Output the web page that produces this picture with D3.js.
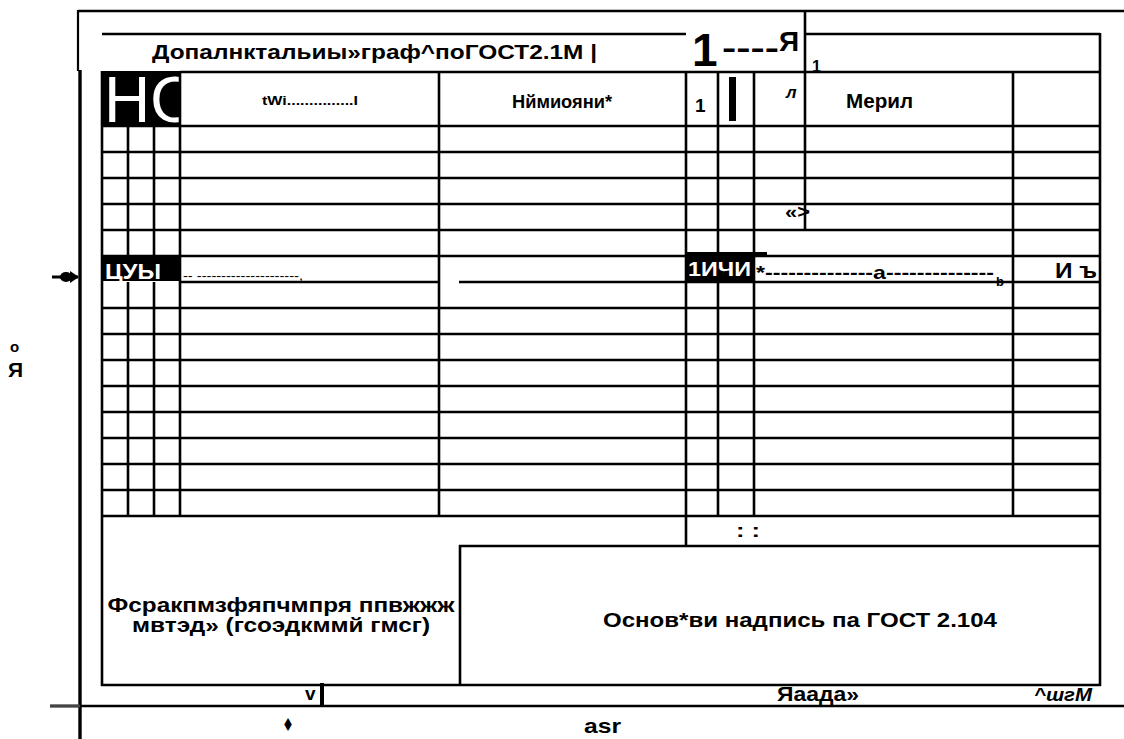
<!DOCTYPE html>
<meta charset="utf-8">
<style>
  body { margin: 0; background: #fff; }
  text { font-family: "Liberation Sans", Arial, sans-serif; font-weight: bold; fill: #000; }
</style>
<script src="https://d3js.org/d3.v7.min.js"></script>
<div id="graph"></div>
<script>

    // form grid: column widths (form units) and number of body rows
    var colWidths = [26, 26, 26, 259, 247, 32, 36, 51, 208, 87];
    var bodyRows = 15;

    // captions
    var headerTitle = "Допалнктальиы»граф^поГОСТ2.1М |";
    var headerCells = ["tWi...............I", "Нймиояни*", "1", "л", "Мерил"];
    var markRow = ["ЦУЫ", "-- ---------------------,", "1ИЧИ", "*--------------а--------------", "b", "И ъ"];
    var leftBlock = ["Фсракпмзфяпчмпря ппвжжж", "мвтэд» (гсоэдкммй гмсг)"];
    var stampText = "Основ*ви надпись па ГОСТ 2.104";
    var footerTexts = ["v", "♦", "asr", "Яаада»", "^шгМ"];
    var sideTexts = ["о", "Я"];

    var W = 1124, H = 739, sw = 2.6;

    var svg = d3.select("#graph")
        .append("svg")
        .attr("width", W)
        .attr("height", H);

    var edges = [0].concat(Array.from(d3.cumsum(colWidths)));
    var x = d3.scaleLinear()
        .domain([0, d3.sum(colWidths)])
        .range([102, 1100]);
    var y = d3.scaleLinear()
        .domain([0, bodyRows])
        .range([126, 516]);
    var X = function (i) { return x(edges[i]); };

    function line(x1, y1, x2, y2, w, c) {
        svg.append("line")
            .attr("x1", x1).attr("y1", y1)
            .attr("x2", x2).attr("y2", y2)
            .attr("stroke", c || "#000")
            .attr("stroke-width", w || sw);
    }
    function txt(s, tx, ty, size, opt) {
        opt = opt || {};
        var t = svg.append("text")
            .attr("x", tx).attr("y", ty)
            .style("font-size", size + "px")
            .text(s);
        if (opt.anchor) t.attr("text-anchor", opt.anchor);
        if (opt.fill) t.style("fill", opt.fill);
        if (opt.italic) t.style("font-style", "italic");
        if (opt.weight) t.style("font-weight", opt.weight);
        if (opt.family) t.style("font-family", opt.family);
        if (opt.len) t.attr("textLength", opt.len).attr("lengthAdjust", "spacingAndGlyphs");
        return t;
    }

    // outer frame
    line(78, 11, W, 11);
    line(78, 10, 78, 71, 2.2);
    line(80, 70, 80, H, 3.4);
    line(X(8), 10, X(8), y(4));
    line(50, 706, W, 706);
    line(50, 706, 80, 706, 3, "#444");

    // top header band
    line(102, 34, X(5), 34);
    line(X(8), 34, X(10), 34);
    line(X(10), 33, X(10), 686);

    // black "НО" block
    svg.append("rect").attr("x", 102).attr("y", 71).attr("width", 81).attr("height", 55).attr("fill", "#000");
    txt("НО", 104, 122, 64, { fill: "#fff", weight: "normal" });
    svg.append("rect").attr("x", X(3)).attr("y", 70).attr("width", 20).attr("height", 55).attr("fill", "#fff");

    // table outline
    line(X(3), 72, X(10), 72);
    line(X(0), 71, X(0), 686);
    line(101, 685, X(10) + 1, 685);

    // body row lines
    d3.range(0, bodyRows + 1).forEach(function (r) {
        var yy = y(r);
        if (r === 6) {
            line(X(3), yy, X(4), yy);
            line(459, yy, X(10), yy);
        } else {
            line(X(0), yy, X(10), yy);
        }
    });

    // column lines
    [1, 2].forEach(function (c) {
        line(X(c), y(0), X(c), y(5));
        line(X(c), y(6), X(c), y(bodyRows));
    });
    [3, 4, 6, 7, 9].forEach(function (c) { line(X(c), 71, X(c), y(bodyRows)); });
    line(X(5), 71, X(5), 547);

    // stamp box
    line(459, 546, X(10), 546);
    line(460, 545, 460, 686);

    // marked row
    svg.append("rect").attr("x", X(0)).attr("y", y(5)).attr("width", X(3) - X(0)).attr("height", 25).attr("fill", "#000");
    svg.append("rect").attr("x", X(5)).attr("y", y(5) - 4).attr("width", X(7) - X(5)).attr("height", 29).attr("fill", "#000");
    svg.append("rect").attr("x", X(7)).attr("y", y(5) - 4).attr("width", 13).attr("height", 3).attr("fill", "#000");
    txt(markRow[0], 105, 279, 22, { fill: "#fff", len: 56 });
    txt(markRow[1], 183, 280, 12, { weight: "normal", len: 120 });
    txt(markRow[2], 688, 276, 21, { fill: "#fff", len: 63 });
    txt(markRow[3], 756, 279, 19, { len: 238 });
    txt(markRow[4], 996, 286, 13);
    txt(markRow[5], 1055, 278, 22, { len: 42 });

    // header texts
    txt(headerTitle, 152, 59, 20, { len: 445 });
    txt("1", 692, 66, 46);
    txt("----", 722, 58, 30, { len: 57 });
    txt("Я", 779, 51, 28);
    txt("1", 812, 72, 16);
    txt(headerCells[0], 262, 105, 12, { len: 96 });
    txt(headerCells[1], 562, 108, 18, { anchor: "middle", len: 100 });
    txt(headerCells[2], 695, 112, 19);
    svg.append("rect").attr("x", 729).attr("y", 77).attr("width", 7).attr("height", 44).attr("fill", "#000");
    txt(headerCells[3], 786, 98, 17, { italic: true });
    txt(headerCells[4], 846, 108, 20, { len: 67 });
    txt("«>", 785, 218, 19, { len: 25 });
    txt(": :", 736, 537, 18, { len: 24 });

    // bottom blocks
    txt(leftBlock[0], 281, 612, 20, { anchor: "middle", len: 347 });
    txt(leftBlock[1], 281, 632, 20, { anchor: "middle", len: 298 });
    txt(stampText, 800, 627, 21, { anchor: "middle", len: 394 });

    // footer
    txt(footerTexts[0], 305, 700, 19);
    svg.append("rect").attr("x", 320).attr("y", 683).attr("width", 4).attr("height", 22).attr("fill", "#000");
    txt(footerTexts[1], 282, 731, 18, { family: "DejaVu Sans", len: 12 });
    txt(footerTexts[2], 584, 733, 21, { len: 37 });
    txt(footerTexts[3], 777, 701, 21, { len: 82 });
    txt(footerTexts[4], 1034, 701, 18, { italic: true, len: 58 });

    // side marks
    txt(sideTexts[0], 10, 352, 15);
    txt(sideTexts[1], 8, 377, 21);
    line(52, 277, 78, 277, 3);
    svg.append("ellipse").attr("cx", 66).attr("cy", 277).attr("rx", 6).attr("ry", 5).attr("fill", "#000");
    svg.append("path").attr("d", "M70,271 L79,277 L70,283 Z").attr("fill", "#000");

</script>
